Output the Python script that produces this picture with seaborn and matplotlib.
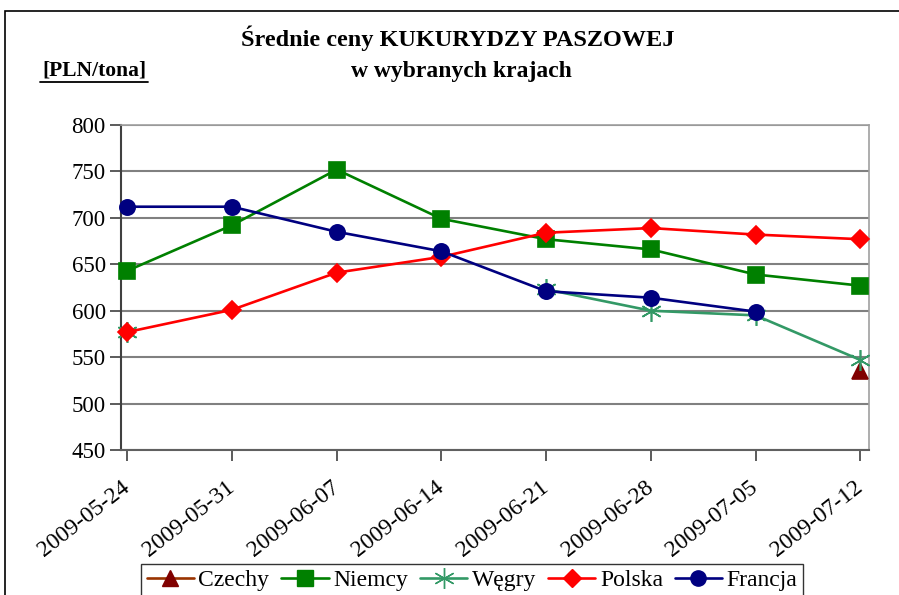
import numpy as np
import pandas as pd
import matplotlib
matplotlib.use("Agg")
import matplotlib.pyplot as plt
import matplotlib.dates as mdates
from matplotlib.lines import Line2D
from matplotlib.patches import Rectangle
import seaborn as sns

# weekly dates
dates = ["2009-05-24", "2009-05-31", "2009-06-07", "2009-06-14",
         "2009-06-21", "2009-06-28", "2009-07-05", "2009-07-12"]

# prices [PLN/tona], NaN = brak notowania
czechy  = [np.nan, np.nan, np.nan, np.nan, np.nan, np.nan, np.nan, 535]
niemcy  = [643, 692, 752, 699, 677, 666, 639, 627]
wegry   = [577, np.nan, np.nan, np.nan, 623, 600, 595, 547]
polska  = [577, 601, 641, 658, 684, 689, 682, 677]
francja = [712, 712, 685, 664, 621, 614, 599, np.nan]

series_names = ["Czechy", "Niemcy", "Węgry", "Polska", "Francja"]
series_vals = [czechy, niemcy, wegry, polska, francja]

styles = {
    "Czechy":  dict(color="#993300", mcolor="#800000", marker="^", ms=12),
    "Niemcy":  dict(color="#008000", mcolor="#008000", marker="s", ms=11),
    "Węgry":   dict(color="#339966", mcolor="#339966", marker=(6, 2, 0), ms=15),
    "Polska":  dict(color="#FF0000", mcolor="#FF0000", marker="D", ms=9),
    "Francja": dict(color="#000080", mcolor="#000080", marker="o", ms=11),
}

sns.set_style("white", {"xtick.bottom": True, "ytick.left": True})
plt.rcParams["font.family"] = ["Liberation Serif", "DejaVu Serif"]
plt.rcParams["text.color"] = "black"
plt.rcParams["xtick.color"] = "black"
plt.rcParams["ytick.color"] = "black"
SERIF = ["Liberation Serif", "DejaVu Serif"]

fig = plt.figure(figsize=(8.99, 5.95), dpi=100)
ax = fig.add_axes([121 / 899, 1 - 450 / 595, 748 / 899, 325 / 595])

x = pd.to_datetime(dates)
for name, vals in zip(series_names, series_vals):
    st = styles[name]
    df = pd.DataFrame({"data": x, "cena": vals})
    # split into contiguous pieces so gaps stay gaps
    seg = df["cena"].isna().cumsum()
    for _, part in df[df["cena"].notna()].groupby(seg[df["cena"].notna()]):
        sns.lineplot(data=part, x="data", y="cena", ax=ax, color=st["color"],
                     lw=1.9, marker=st["marker"], markersize=st["ms"],
                     markerfacecolor=st["mcolor"], markeredgecolor=st["mcolor"],
                     markeredgewidth=1.2, zorder=3, clip_on=False)

ax.set_ylim(450, 800)
ax.set_yticks(range(450, 801, 50))
# Excel-style date axis: points sit a bit right of the week ticks
ax.set_xlim(x[0] - pd.Timedelta(hours=10), x[-1] + pd.Timedelta(hours=14))
ax.set_xticks(x)
ax.xaxis.set_major_formatter(mdates.DateFormatter("%Y-%m-%d"))
ax.set_xlabel("")
ax.set_ylabel("")
ax.yaxis.grid(True, color="#808080", lw=1.5)
ax.set_axisbelow(True)
for side in ["top", "right"]:
    ax.spines[side].set_color("#a0a0a0")
    ax.spines[side].set_linewidth(1.2)
ax.spines["left"].set_color("#404040")
ax.spines["bottom"].set_color("#606060")
ax.spines["left"].set_linewidth(1.5)
ax.spines["bottom"].set_linewidth(1.5)
ax.tick_params(axis="both", direction="out", length=8, width=1.2, color="#404040",
               labelfontfamily="Liberation Serif")
ax.tick_params(axis="y", labelsize=16.5, pad=3)
ax.tick_params(axis="x", labelsize=17, pad=17)

# titles
fig.text(458 / 899, 1 - 38 / 595, "Średnie ceny KUKURYDZY PASZOWEJ", ha="center",
         va="center", fontsize=17.5, fontweight="bold", family=SERIF)
fig.text(461 / 899, 1 - 72 / 595, "w wybranych krajach", ha="center",
         va="center", fontsize=17, fontweight="bold", family=SERIF)
fig.text(94 / 899, 1 - 70 / 595, "[PLN/tona]", ha="center", va="center",
         fontsize=15.5, fontweight="bold", family=SERIF)
fig.add_artist(Line2D([40 / 899, 148 / 899], [1 - 82 / 595, 1 - 82 / 595],
                      color="black", lw=1.3, transform=fig.transFigure))

# outer chart frame
fig.add_artist(Rectangle((5 / 899, -0.05), 1.0, 1 - 11 / 595 + 0.05,
                         transform=fig.transFigure, fill=False,
                         edgecolor="black", lw=1.2, clip_on=False))

handles = []
for name in series_names:
    st = styles[name]
    handles.append(Line2D([], [], color=st["color"], lw=1.9, marker=st["marker"],
                          markersize=st["ms"], markerfacecolor=st["mcolor"],
                          markeredgecolor=st["mcolor"]))
fig.legend(handles, series_names, loc="upper center", ncol=5,
           bbox_to_anchor=(472 / 899, 1 - 564 / 595), frameon=True, fancybox=False,
           edgecolor="black", handlelength=2.0, handletextpad=0.2,
           columnspacing=0.5, borderpad=0.25, borderaxespad=0,
           prop={"family": SERIF, "size": 17})

fig.canvas.draw()
for lab in ax.get_yticklabels():
    lab.set_fontfamily(SERIF)
for lab in ax.get_xticklabels():
    lab.set_fontfamily(SERIF)
    lab.set_rotation(38)
    lab.set_ha("right")
    lab.set_va("center")
    lab.set_rotation_mode("anchor")

fig.savefig("out.png", dpi=100)
